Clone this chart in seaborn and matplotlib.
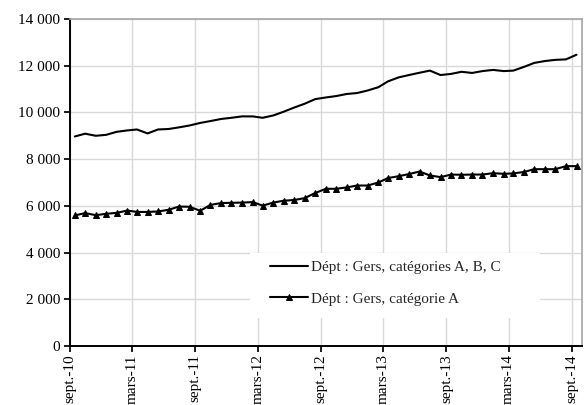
"""
Demandeurs d'emploi, Gers : catégories A, B, C et catégorie A (sept. 2010 - sept. 2014).
"""

import matplotlib

matplotlib.use("Agg")

import matplotlib.pyplot as plt
import pandas as pd
import seaborn as sns
from matplotlib.patches import Rectangle
from matplotlib.ticker import FuncFormatter


# one value per month, sept. 2010 -> sept. 2014
ABC_VALUES = [
    8970, 9090, 9000, 9040, 9170, 9230, 9270, 9100, 9270, 9290, 9360, 9440,
    9550, 9630, 9720, 9770, 9830, 9830, 9770, 9870, 10030, 10210, 10370, 10570,
    10640, 10700, 10790, 10830, 10940, 11080, 11330, 11500, 11600, 11700, 11790, 11600,
    11650, 11740, 11690, 11770, 11820, 11770, 11790, 11950, 12120, 12200, 12250, 12270,
    12470,
]
A_VALUES = [
    5590, 5690, 5600, 5660, 5700, 5800, 5740, 5740, 5760, 5830, 5970, 5960,
    5790, 6040, 6120, 6130, 6140, 6160, 6010, 6140, 6220, 6250, 6330, 6550,
    6730, 6730, 6790, 6870, 6870, 7000, 7190, 7270, 7360, 7470, 7300, 7230,
    7340, 7330, 7340, 7340, 7400, 7370, 7390, 7450, 7570, 7570, 7570, 7700,
    7700,
]
SERIES_LABELS = [
    "Dépt : Gers, catégories A, B, C",
    "Dépt : Gers, catégorie A",
]
TICK_LABELS = [
    "sept.-10", "mars-11", "sept.-11", "mars-12", "sept.-12",
    "mars-13", "sept.-13", "mars-14", "sept.-14",
]
Y_TICKS = [0, 2000, 4000, 6000, 8000, 10000, 12000, 14000]


def setup_style() -> None:
    sns.set_theme(
        style="white",
        rc={
            "axes.edgecolor": "black",
            "grid.color": "#d9d9d9",
            "grid.linewidth": 1.0,
            "xtick.bottom": True,
            "ytick.left": True,
            "xtick.major.size": 4,
            "ytick.major.size": 4,
            "xtick.color": "black",
            "ytick.color": "black",
        },
    )
    plt.rcParams["font.family"] = ["Liberation Serif", "DejaVu Serif"]
    plt.rcParams["font.size"] = 11


def main() -> None:
    setup_style()

    # monthly figures are stamped mid-month on the date axis
    months = pd.date_range("2010-09-01", periods=len(ABC_VALUES), freq="MS") + pd.Timedelta(days=14)
    df = pd.DataFrame({"month": months, "abc": ABC_VALUES, "a": A_VALUES})

    fig = plt.figure(figsize=(5.85, 4.05), dpi=100)
    ax = fig.add_axes([0.1197, 0.1457, 0.8752, 0.8074])

    sns.lineplot(data=df, x="month", y="abc", color="black", linewidth=1.5,
                 label=SERIES_LABELS[0], ax=ax)
    sns.lineplot(data=df, x="month", y="a", color="black", linewidth=1.5,
                 marker="^", markersize=4.5, markeredgecolor="black",
                 label=SERIES_LABELS[1], ax=ax)

    ax.set_xlim(pd.Timestamp("2010-09-01"), pd.Timestamp("2014-10-01"))
    ax.set_ylim(0, 14000)
    ax.set_xticks(pd.date_range("2010-09-01", "2014-09-01", freq="6MS"))
    ax.set_xticklabels(TICK_LABELS, rotation=90, fontsize=11)
    ax.set_yticks(Y_TICKS)
    ax.yaxis.set_major_formatter(FuncFormatter(lambda v, _: f"{v:,.0f}".replace(",", " ")))
    ax.tick_params(axis="y", labelsize=11, pad=3)
    ax.tick_params(axis="x", pad=2)
    ax.set_xlabel("")
    ax.set_ylabel("")
    ax.grid(True)
    ax.set_axisbelow(True)

    for side in ("left", "bottom"):
        ax.spines[side].set_color("black")
        ax.spines[side].set_linewidth(1.4)
    for side in ("top", "right"):
        ax.spines[side].set_color("#a6a6a6")
        ax.spines[side].set_linewidth(1.2)

    # white legend area hiding the grid, as in the Excel original
    ax.add_patch(Rectangle((0.352, 0.086), 0.566, 0.199, transform=ax.transAxes,
                           facecolor="white", edgecolor="none", zorder=1))
    ax.legend(loc="upper left", bbox_to_anchor=(0.385, 0.27), frameon=False,
              fontsize=11, handlelength=2.5, handletextpad=0.15, labelspacing=1.15,
              borderaxespad=0, borderpad=0.2)

    fig.savefig("out.png", dpi=100)
    plt.close(fig)


if __name__ == "__main__":
    main()
